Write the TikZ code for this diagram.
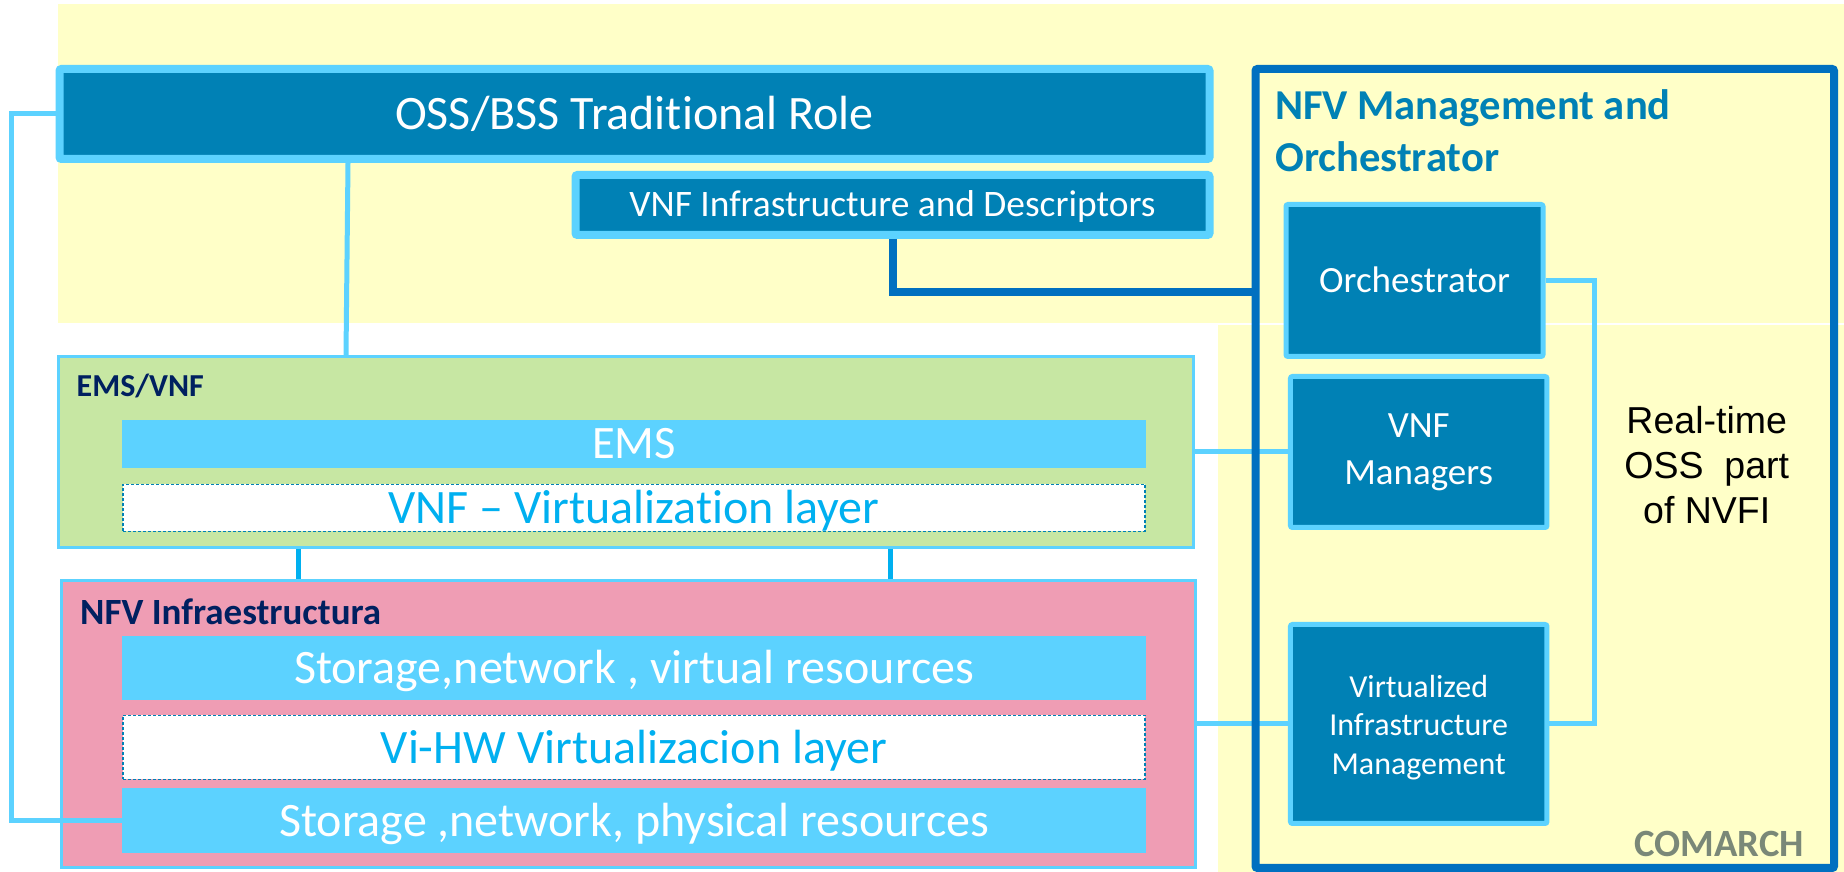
\documentclass[tikz,border=0pt]{standalone}
\usepackage{fontspec}
\setmainfont[Ligatures=CommonOff]{Carlito}
\newfontfamily\arialfont{Liberation Sans}
\definecolor{paleyellow}{HTML}{FFFFC8}
\definecolor{skyblue}{HTML}{5CD2FF}
\definecolor{vividblue}{HTML}{00B0F0}
\definecolor{deepblue}{HTML}{0081B5}
\definecolor{frameblue}{HTML}{0070C0}
\definecolor{navytext}{HTML}{002060}
\definecolor{panelgreen}{HTML}{C7E7A3}
\definecolor{panelpink}{HTML}{EF9DB4}
\definecolor{logogrey}{HTML}{7A8878}

\begin{document}
\begin{tikzpicture}[x=1pt,y=1pt,
    band node/.style={fill=paleyellow,inner sep=0pt},
    dark node/.style={rectangle,rounded corners=2pt,draw=skyblue,fill=deepblue,text=white,align=center,inner sep=0pt},
    panel node/.style={rectangle,draw=skyblue,line width=3pt,inner sep=0pt},
    bar node/.style={rectangle,fill=skyblue,text=white,inner sep=0pt,minimum width=1024pt,text height=31.4pt,text depth=0pt,font=\fontsize{48}{56}\selectfont},
    layer node/.style={rectangle,draw=deepblue,densely dashed,line width=1.2pt,fill=white,text=vividblue,inner sep=0pt,minimum width=1022pt,text height=31.4pt,text depth=0pt,font=\fontsize{48}{56}\selectfont},
    tag node/.style={inner sep=0pt,anchor=base west,text=navytext},
    link/.style={draw=skyblue,line width=5pt}]

    \useasboundingbox (0,0) rectangle (1844,872);

    % Yellow bands
    \node[band node,minimum width=1786pt,minimum height=319pt] (topband) at (951,708.5) {};
    \node[band node,minimum width=626pt,minimum height=547pt,node distance=435pt,below of=topband,xshift=580pt] (lowband) {};

    % OSS/BSS and descriptors
    \node[dark node,line width=8pt,minimum width=1150pt,minimum height=90pt,text height=32pt,text depth=0pt,font=\fontsize{48}{56}\selectfont] (oss) at (634.5,758) {OSS/BSS Traditional Role};
    \node[dark node,line width=8pt,minimum width=634pt,minimum height=60pt,text height=23.4pt,text depth=0pt,font=\fontsize{37.4}{44}\selectfont,node distance=91pt,below of=oss,xshift=258pt] (vnfd) {VNF Infrastructure and Descriptors};

    % EMS/VNF and below
    \node[panel node,fill=panelgreen,minimum width=1135pt,minimum height=191pt,node distance=338pt,below of=oss,xshift=-8.5pt] (emspanel) {};
    \node[tag node,font=\fontsize{32}{38}\selectfont\bfseries] (emstag) at ([shift={(19.5pt,-41.5pt)}]emspanel.north west) {EMS/VNF};
    \node[bar node,minimum height=48pt,text height=29.4pt,font=\fontsize{46.5}{54}\selectfont,node distance=330pt,below of=oss,xshift=-0.5pt] (ems) {EMS};
    \node[layer node,minimum height=47pt,node distance=64pt,below of=ems] (vnflayer) {VNF – Virtualization layer};

    % NFV infrastructure and below
    \node[panel node,fill=panelpink,minimum width=1134pt,minimum height=287pt,node distance=272pt,below of=emspanel,xshift=2.5pt] (nfvipanel) {};
    \node[tag node,font=\fontsize{37}{44}\selectfont\bfseries] (nfvitag) at ([shift={(20pt,-45.5pt)}]nfvipanel.north west) {NFV Infraestructura};
    \node[bar node,minimum height=64pt,node distance=160pt,below of=vnflayer] (virtres) {Storage,network , virtual resources};
    \node[layer node,minimum height=64pt,node distance=79.5pt,below of=virtres] (hwlayer) {Vi-HW Virtualizacion layer};
    \node[bar node,minimum height=65pt,node distance=73pt,below of=hwlayer] (physres) {Storage ,network, physical resources};

    % Management blocks
    \node[dark node,line width=5pt,minimum width=257pt,minimum height=152pt,text height=24.4pt,text depth=0pt,font=\fontsize{37}{47}\selectfont,node distance=780pt,right of=oss,yshift=-166.5pt] (orch) {Orchestrator};
    \node[dark node,line width=5pt,minimum width=256.5pt,minimum height=151pt,font=\fontsize{37}{47}\selectfont,node distance=171.5pt,below of=orch,xshift=4.2pt] (vnfm) {VNF\\Managers};
    \node[dark node,line width=5pt,minimum width=256.5pt,minimum height=199pt,font=\fontsize{32}{38.5}\selectfont,node distance=272pt,below of=vnfm] (vim) {\rule{0pt}{29pt}Virtualized\\Infrastructure\\Management};

    % Rails for the long links
    \coordinate[node distance=623.5pt,left of=oss] (leftrail);
    \coordinate[node distance=180pt,right of=orch] (rightrail);

    \path[link]
    ([xshift=-286.5pt]oss.south) edge ([xshift=-280pt]emspanel.north)
    (emspanel.east) edge (vnfm.west)
    (nfvipanel.east) edge (vim.west);
    \path[draw=vividblue,line width=5pt]
    ([xshift=-328pt]emspanel.south) edge ([xshift=-330.5pt]nfvipanel.north)
    ([xshift=264pt]emspanel.south) edge ([xshift=261.5pt]nfvipanel.north);
    \draw[link] (oss.west) -- (leftrail) |- (physres.west);
    \draw[link] (orch.east) -- (rightrail) |- (vim.east);

    % Management frame
    \node[rectangle,rounded corners=2pt,draw=frameblue,line width=8pt,inner sep=0pt,minimum width=578.5pt,minimum height=799pt,node distance=910.25pt,right of=oss,yshift=-354.5pt] (nfvm) {};
    \node[inner sep=0pt,anchor=north west,align=left,text=deepblue,font=\fontsize{42.6}{52.5}\selectfont\bfseries] (nfvmtag) at ([shift={(23.5pt,-24pt)}]nfvm.north west) {NFV Management and\\Orchestrator};
    \draw[draw=frameblue,line width=8pt] (vnfd.south) |- ([yshift=176.5pt]nfvm.west);

    \node[align=center,inner sep=0pt,text=black,font=\arialfont\fontsize{37.5}{45}\selectfont,node distance=288pt,right of=vnfm,yshift=-13pt] (realtime) {Real-time\\OSS~ part\\of NVFI};
    \node[inner sep=0pt,anchor=base east,text=logogrey,font=\fontsize{38.6}{44}\selectfont\bfseries] (logo) at (1804,15) {COMARCH};
\end{tikzpicture}
\end{document}
